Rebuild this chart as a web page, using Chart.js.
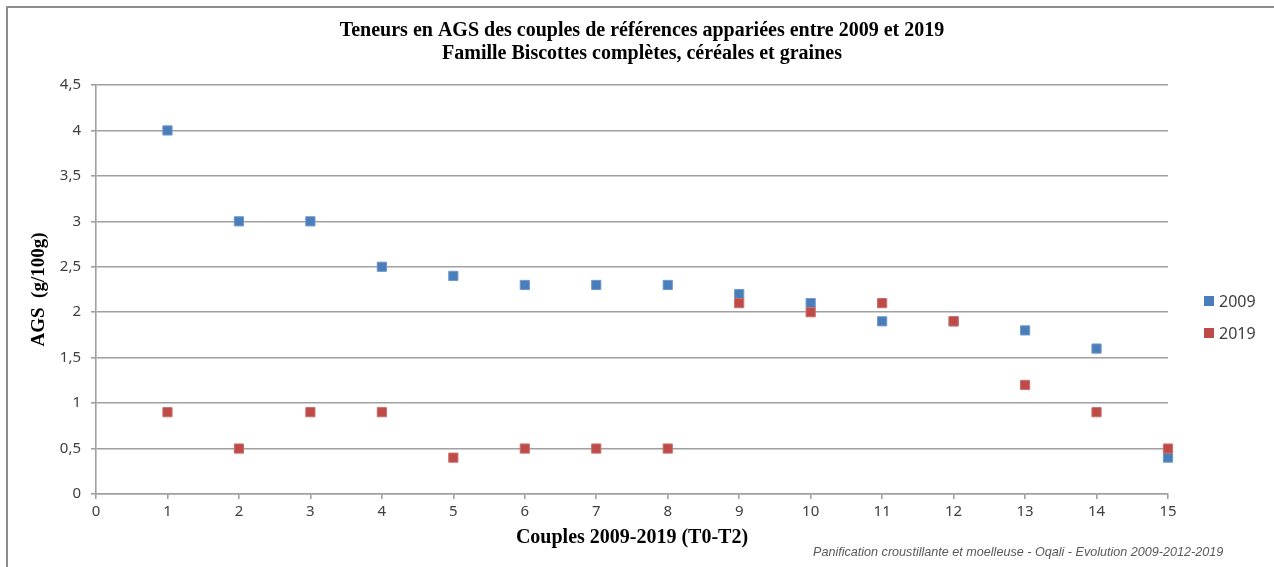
<!DOCTYPE html>
<html>
<head>
<meta charset="utf-8">
<script src="https://cdn.jsdelivr.net/npm/chart.js@4"></script>
<style>
  html, body { margin: 0; padding: 0; background: #fff; }
  #wrap { position: absolute; left: 0; top: 0; width: 1274px; height: 567px; }
</style>
</head>
<body>
<div id="wrap"><canvas id="chart" width="1274" height="567"></canvas></div>
<script>
const couples = [1, 2, 3, 4, 5, 6, 7, 8, 9, 10, 11, 12, 13, 14, 15];
const ags2009 = [4, 3, 3, 2.5, 2.4, 2.3, 2.3, 2.3, 2.2, 2.1, 1.9, 1.9, 1.8, 1.6, 0.4];
const ags2019 = [0.9, 0.5, 0.9, 0.9, 0.4, 0.5, 0.5, 0.5, 2.1, 2.0, 2.1, 1.9, 1.2, 0.9, 0.5];
const titleLines = [
  'Teneurs en AGS des couples de références appariées entre 2009 et 2019',
  'Famille Biscottes complètes, céréales et graines'
];
const footnote = 'Panification croustillante et moelleuse - Oqali - Evolution 2009-2012-2019';

const BLUE = '#4a7ebb';
const RED = '#be4b48';
const GRID = '#a0a0a0';
const TEXT = '#404040';

const toPoints = (vals) => vals.map((v, i) => ({ x: couples[i], y: v }));

const decorations = {
  id: 'decorations',
  afterDraw(chart) {
    const ctx = chart.ctx;
    ctx.save();
    // cadre extérieur (gauche + haut)
    ctx.strokeStyle = '#8c8c8c';
    ctx.lineWidth = 2;
    ctx.beginPath();
    ctx.moveTo(7, 567);
    ctx.lineTo(7, 7);
    ctx.lineTo(1274, 7);
    ctx.stroke();

    // titre
    ctx.fillStyle = '#000';
    ctx.textAlign = 'center';
    ctx.textBaseline = 'middle';
    ctx.font = 'bold 20px "Liberation Serif", serif';
    ctx.fillText(titleLines[0], 642, 31, 620);
    ctx.fillText(titleLines[1], 642, 54, 420);

    // légende
    const items = [['2009', BLUE, 301], ['2019', RED, 333]];
    ctx.textAlign = 'left';
    ctx.font = '16px "Noto Sans", sans-serif';
    items.forEach(([label, col, y]) => {
      ctx.fillStyle = col;
      ctx.fillRect(1204, y - 5, 10, 10);
      ctx.fillStyle = TEXT;
      ctx.fillText(label, 1219, y + 1);
    });

    // source
    ctx.font = 'italic 12.6px "Liberation Sans", sans-serif';
    ctx.fillStyle = '#595959';
    ctx.fillText(footnote, 813, 552, 414);
    ctx.restore();
  }
};

new Chart(document.getElementById('chart'), {
  type: 'scatter',
  data: {
    datasets: [
      {
        label: '2009',
        data: toPoints(ags2009),
        order: 1,
        clip: false,
        backgroundColor: BLUE,
        borderColor: '#6f98cc',
        borderWidth: 1,
        pointStyle: 'rect',
        pointRadius: 6.5,
        pointHoverRadius: 6.5
      },
      {
        label: '2019',
        data: toPoints(ags2019),
        order: 0,
        clip: false,
        backgroundColor: RED,
        borderColor: '#cc6e6b',
        borderWidth: 1,
        pointStyle: 'rect',
        pointRadius: 6.5,
        pointHoverRadius: 6.5
      }
    ]
  },
  options: {
    responsive: false,
    animation: false,
    layout: { padding: { left: 0, top: 85, right: 106, bottom: 0 } },
    plugins: {
      legend: { display: false },
      title: { display: false },
      tooltip: { enabled: false }
    },
    scales: {
      x: {
        type: 'linear',
        min: 0,
        max: 15,
        afterFit: (s) => { s.height = 73; },
        ticks: {
          stepSize: 1,
          padding: 4,
          color: TEXT,
          font: { family: '"Noto Sans", sans-serif', size: 15 }
        },
        grid: { drawOnChartArea: false, color: GRID, lineWidth: 1.6, tickLength: 5 },
        border: { color: GRID, width: 1.6 },
        title: {
          display: true,
          text: 'Couples 2009-2019 (T0-T2)',
          color: '#000',
          font: { family: '"Liberation Serif", serif', size: 20, weight: 'bold' },
          padding: { top: 0, bottom: 17 }
        }
      },
      y: {
        min: 0,
        max: 4.5,
        afterFit: (s) => { s.width = 96; },
        ticks: {
          stepSize: 0.5,
          padding: 10,
          color: TEXT,
          font: { family: '"Noto Sans", sans-serif', size: 15 },
          callback: (v) => String(v).replace('.', ',')
        },
        grid: { color: GRID, lineWidth: 1.6, tickLength: 5 },
        border: { color: GRID, width: 1.6 },
        title: {
          display: true,
          text: 'AGS  (g/100g)',
          color: '#000',
          font: { family: '"Liberation Serif", serif', size: 19, weight: 'bold' },
          padding: { top: 28, bottom: 0 }
        }
      }
    }
  },
  plugins: [decorations]
});
</script>
</body>
</html>
